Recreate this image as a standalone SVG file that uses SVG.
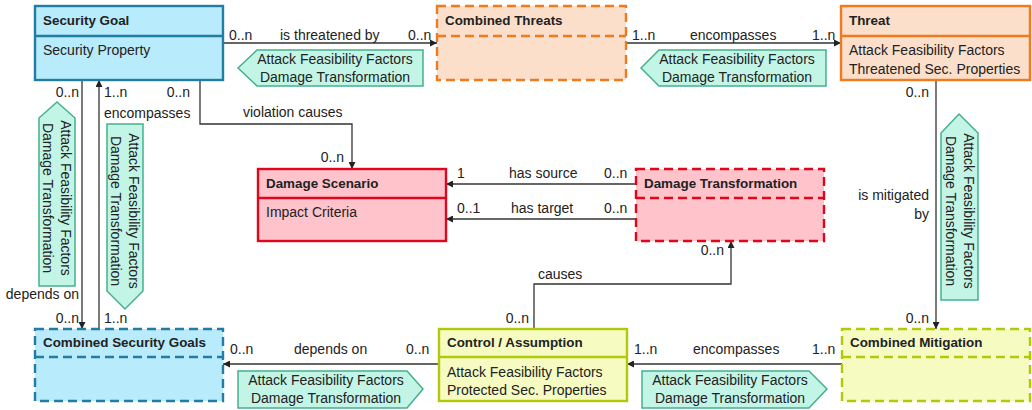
<svg xmlns="http://www.w3.org/2000/svg" width="1032" height="410" viewBox="0 0 1032 410">
  <style>
    text { font-family: "Liberation Sans", Arial, sans-serif; font-size: 14px; fill: #222; }
    .hd { font-weight: bold; font-size: 13.4px; }
    .box { stroke-width: 2.4; }
    .dash { stroke-dasharray: 9 5; }
    .blue { fill: #b8ebfb; stroke: #217da4; }
    .orange { fill: #fcdfcb; stroke: #f07a1e; }
    .red { fill: #ffc3cc; stroke: #e2061c; }
    .lime { fill: #f6fbc2; stroke: #b2c90a; }
    .div { fill: none; }
    .tag { fill: #c2f5e6; stroke: #45b08e; stroke-width: 1.5; }
    .conn { fill: none; stroke: #333; stroke-width: 1.3; }
    .mid { text-anchor: middle; }
    .end { text-anchor: end; }
  </style>
  <defs>
    <marker id="arrow" viewBox="0 0 10 10" refX="10" refY="5" markerWidth="7" markerHeight="7" markerUnits="userSpaceOnUse" orient="auto">
      <path d="M0,0 L10,5 L0,10 z" fill="#222"/>
    </marker>
  </defs>

  <!-- connectors -->
  <g id="connectors">
    <path class="conn" d="M223,43 H437" marker-end="url(#arrow)"/>
    <path class="conn" d="M626,43 H841" marker-end="url(#arrow)"/>
    <path class="conn" d="M82,80 V329" marker-end="url(#arrow)"/>
    <path class="conn" d="M99,329 V80" marker-end="url(#arrow)"/>
    <path class="conn" d="M200,80 V124 H352 V169" marker-end="url(#arrow)"/>
    <path class="conn" d="M636,184 H446" marker-end="url(#arrow)"/>
    <path class="conn" d="M636,219 H446" marker-end="url(#arrow)"/>
    <path class="conn" d="M534,330 V284 H731 V241" marker-end="url(#arrow)"/>
    <path class="conn" d="M936,80 V329" marker-end="url(#arrow)"/>
    <path class="conn" d="M439,364 H223" marker-end="url(#arrow)"/>
    <path class="conn" d="M842,364 H627" marker-end="url(#arrow)"/>

    <!-- multiplicities and role names -->
    <text x="229" y="40">0..n</text>
    <text x="280" y="40">is threatened by</text>
    <text x="408" y="40">0..n</text>
    <text x="632" y="40">1..n</text>
    <text x="690" y="40">encompasses</text>
    <text x="812" y="40">1..n</text>

    <text class="end" x="79" y="97">0..n</text>
    <text x="104" y="97">1..n</text>
    <text class="end" x="190" y="97">0..n</text>
    <text x="104" y="118">encompasses</text>
    <text x="243" y="117">violation causes</text>
    <text class="end" x="79" y="299">depends on</text>
    <text class="end" x="79" y="323">0..n</text>
    <text x="104" y="323">1..n</text>

    <text class="end" x="344" y="162">0..n</text>
    <text x="457" y="178">1</text>
    <text x="509" y="178">has source</text>
    <text x="604" y="178">0..n</text>
    <text x="457" y="213">0..1</text>
    <text x="511" y="213">has target</text>
    <text x="604" y="213">0..n</text>
    <text class="end" x="724" y="255">0..n</text>
    <text x="538" y="279">causes</text>
    <text class="end" x="529" y="323">0..n</text>

    <text class="end" x="929" y="97">0..n</text>
    <text class="end" x="929" y="200">is mitigated</text>
    <text class="end" x="929" y="219">by</text>
    <text class="end" x="929" y="323">0..n</text>

    <text x="230" y="354">0..n</text>
    <text x="294" y="354">depends on</text>
    <text x="406" y="354">0..n</text>
    <text x="634" y="354">1..n</text>
    <text x="693" y="354">encompasses</text>
    <text x="812" y="354">1..n</text>
  </g>

  <!-- attribute tags on associations -->
  <g id="tag-sg-ct">
    <path class="tag" d="M238,68 L257,50 H423 V86 H257 Z"/>
    <text class="mid" x="335" y="64">Attack Feasibility Factors</text>
    <text class="mid" x="335" y="82">Damage Transformation</text>
  </g>
  <g id="tag-ct-threat">
    <path class="tag" d="M641,68 L659,50 H826 V86 H659 Z"/>
    <text class="mid" x="737" y="64">Attack Feasibility Factors</text>
    <text class="mid" x="737" y="82">Damage Transformation</text>
  </g>
  <g id="tag-sg-csg">
    <path class="tag" d="M57,102 L75,118 V286 H39 V118 Z"/>
    <text class="mid" transform="translate(61,198) rotate(90)" x="0" y="0">Attack Feasibility Factors</text>
    <text class="mid" transform="translate(43,198) rotate(90)" x="0" y="0">Damage Transformation</text>
  </g>
  <g id="tag-csg-sg">
    <path class="tag" d="M107,124 H143 V291 L125,309 L107,291 Z"/>
    <text class="mid" transform="translate(129,211) rotate(90)" x="0" y="0">Attack Feasibility Factors</text>
    <text class="mid" transform="translate(111,211) rotate(90)" x="0" y="0">Damage Transformation</text>
  </g>
  <g id="tag-threat-cm">
    <path class="tag" d="M959,114 L978,133 V300 H941 V133 Z"/>
    <text class="mid" transform="translate(964,211) rotate(90)" x="0" y="0">Attack Feasibility Factors</text>
    <text class="mid" transform="translate(946,211) rotate(90)" x="0" y="0">Damage Transformation</text>
  </g>
  <g id="tag-ca-csg">
    <path class="tag" d="M238,371 H407 L423,389 L407,408 H238 Z"/>
    <text class="mid" x="326" y="385">Attack Feasibility Factors</text>
    <text class="mid" x="326" y="403">Damage Transformation</text>
  </g>
  <g id="tag-cm-ca">
    <path class="tag" d="M642,371 H809 L827,389 L809,408 H642 Z"/>
    <text class="mid" x="730" y="385">Attack Feasibility Factors</text>
    <text class="mid" x="730" y="403">Damage Transformation</text>
  </g>

  <!-- classes -->
  <g id="security-goal">
    <rect class="box blue" x="35" y="6" width="188" height="74"/>
    <line class="box blue div" x1="35" y1="36" x2="223" y2="36"/>
    <text class="hd" x="43" y="25">Security Goal</text>
    <text x="43" y="55">Security Property</text>
  </g>
  <g id="combined-threats">
    <rect class="box orange dash" x="437" y="6" width="189" height="74"/>
    <line class="box orange dash div" x1="437" y1="36" x2="626" y2="36"/>
    <text class="hd" x="445" y="25">Combined Threats</text>
  </g>
  <g id="threat">
    <rect class="box orange" x="841" y="6" width="189" height="74"/>
    <line class="box orange div" x1="841" y1="36" x2="1030" y2="36"/>
    <text class="hd" x="849" y="25">Threat</text>
    <text x="849" y="55">Attack Feasibility Factors</text>
    <text x="849" y="74">Threatened Sec. Properties</text>
  </g>
  <g id="damage-scenario">
    <rect class="box red" x="258" y="169" width="188" height="72"/>
    <line class="box red div" x1="258" y1="198" x2="446" y2="198"/>
    <text class="hd" x="266" y="188">Damage Scenario</text>
    <text x="266" y="217">Impact Criteria</text>
  </g>
  <g id="damage-transformation">
    <rect class="box red dash" x="636" y="169" width="188" height="72"/>
    <line class="box red dash div" x1="636" y1="198" x2="824" y2="198"/>
    <text class="hd" x="644" y="188">Damage Transformation</text>
  </g>
  <g id="combined-security-goals">
    <rect class="box blue dash" x="35" y="329" width="188" height="72"/>
    <line class="box blue dash div" x1="35" y1="357" x2="223" y2="357"/>
    <text class="hd" x="43" y="347">Combined Security Goals</text>
  </g>
  <g id="control-assumption">
    <rect class="box lime" x="439" y="329" width="188" height="72"/>
    <line class="box lime div" x1="439" y1="357" x2="627" y2="357"/>
    <text class="hd" x="447" y="347">Control / Assumption</text>
    <text x="447" y="377">Attack Feasibility Factors</text>
    <text x="447" y="395">Protected Sec. Properties</text>
  </g>
  <g id="combined-mitigation">
    <rect class="box lime dash" x="842" y="329" width="188" height="72"/>
    <line class="box lime dash div" x1="842" y1="357" x2="1030" y2="357"/>
    <text class="hd" x="850" y="347">Combined Mitigation</text>
  </g>
</svg>
